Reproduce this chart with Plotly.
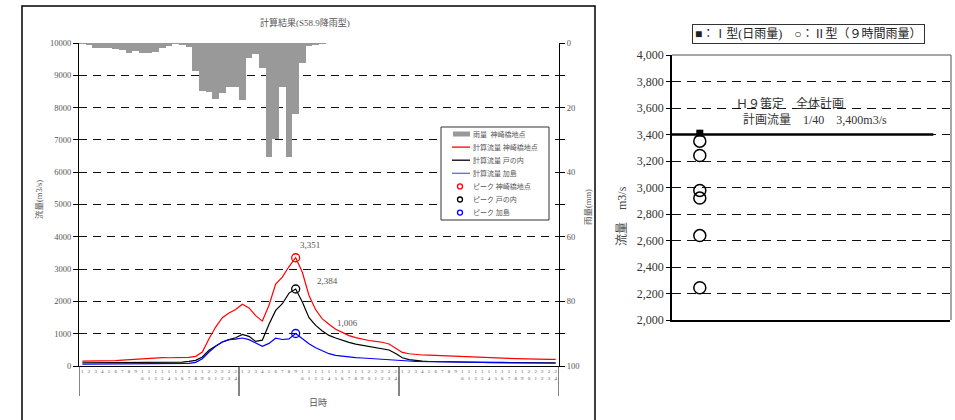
import plotly.graph_objects as go

# ---------------- data ----------------
hour_index = list(range(72))                      # hourly steps from 27th 1:00 to 29th 24:00
hour_labels = [str(h) for h in range(1, 25)] * 3  # tick labels (hour of day)
day_labels = ["27", "28", "29"]

rain_mm = [0.2, 0.4, 1.4, 1.4, 1.4, 1.9, 2.1, 3.1, 2.6, 3.1, 3.1, 2.8,
           1.4, 0.9, 0.2, 0.6, 1.1, 8.7, 14.8, 15.1, 17.3, 15.5, 13.7, 13.7,
           17.6, 4.7, 3.3, 7.7, 35.3, 29.8, 13.6, 35.3, 22.1, 6.2, 1.0, 0.4,
           0.2, 0, 0, 0, 0, 0, 0, 0, 0, 0, 0, 0,
           0, 0, 0, 0, 0, 0, 0, 0, 0, 0, 0, 0,
           0, 0, 0, 0, 0, 0, 0, 0, 0, 0, 0, 0]

flow_kanzaki = [150, 150, 152, 155, 160, 168, 180, 195, 215, 235, 250, 258,
                258, 255, 252, 255, 268, 300, 433, 845, 1206, 1495, 1640, 1750,
                1910, 1800, 1560, 1390, 1880, 2540, 2750, 3080, 3351, 2900, 2185, 1740,
                1460, 1290, 1135, 1040, 940, 880, 830, 790, 760, 735, 680, 540,
                420, 380, 355, 340, 335, 325, 315, 305, 295, 287, 280, 273,
                267, 260, 252, 245, 238, 230, 222, 215, 210, 207, 205, 205]

flow_tonouchi = [100, 100, 100, 100, 102, 105, 108, 112, 115, 118, 120, 122,
                 122, 120, 120, 122, 144, 175, 278, 485, 620, 742, 815, 876,
                 980, 918, 760, 800, 1290, 1720, 1928, 2258, 2384, 1980, 1495, 1258,
                 1082, 948, 866, 794, 732, 680, 640, 600, 567, 530, 495, 390,
                 255, 196, 165, 150, 140, 135, 130, 128, 125, 122, 120, 118,
                 116, 114, 112, 110, 108, 106, 105, 104, 103, 102, 101, 100]

flow_kashima = [60, 60, 60, 60, 62, 64, 66, 68, 70, 72, 74, 75,
                74, 72, 72, 74, 82, 113, 227, 433, 608, 742, 815, 835,
                866, 815, 700, 610, 700, 860, 820, 840, 1006, 845, 690, 567,
                464, 381, 330, 300, 278, 258, 247, 237, 227, 216, 206, 185,
                165, 155, 144, 138, 133, 128, 124, 120, 117, 114, 112, 110,
                108, 105, 102, 100, 98, 96, 94, 92, 90, 88, 86, 85]

# right chart
plan_flow = 3400
type1_flow = [3410]
type2_flow = [3350, 3242, 2978, 2920, 2637, 2243]
event_pos = 1

# ---------------- helpers ----------------
W, H = 955, 420
def px(x): return x / W
def py(y): return 1 - y / H

SERIF = "Liberation Serif, Noto Sans CJK JP"
GREY_TXT = "#555555"

hours = [h + 0.5 for h in hour_index]
def stacked(s):
    return "<br>".join(list(s))
tick_text = [stacked(s) for s in hour_labels]

fig = go.Figure()

# rain bars (reversed right axis)
fig.add_trace(go.Bar(x=hours, y=rain_mm, xaxis="x", yaxis="y2", width=1,
                     marker=dict(color="#999999", line=dict(width=0)),
                     showlegend=False, hoverinfo="skip"))

series = [(flow_kanzaki, "#ff0000"), (flow_tonouchi, "#000000"), (flow_kashima, "#0000ff")]
for ys, col in series:
    fig.add_trace(go.Scatter(x=hours, y=ys, mode="lines", xaxis="x", yaxis="y",
                             line=dict(color=col, width=1.2), showlegend=False))

peak_label_offsets = [(14, 13), (32, 8), (52, 11)]
for (ys, col), (dx, dy) in zip(series, peak_label_offsets):
    k = ys.index(max(ys))
    fig.add_trace(go.Scatter(x=[hours[k]], y=[ys[k]], mode="markers", xaxis="x", yaxis="y",
                             marker=dict(symbol="circle-open", size=8, color=col,
                                         line=dict(width=1.3, color=col)),
                             showlegend=False))
    fig.add_annotation(x=hours[k], y=ys[k], xref="x", yref="y", text=f"{ys[k]:,}",
                       showarrow=False, xshift=dx, yshift=dy,
                       xanchor="center", yanchor="middle",
                       font=dict(family=SERIF, size=9, color=GREY_TXT))

# right chart
fig.add_trace(go.Scatter(x=[event_pos] * len(type2_flow), y=type2_flow, mode="markers",
                         xaxis="x3", yaxis="y3",
                         marker=dict(symbol="circle-open", size=12, color="black",
                                     line=dict(width=1.5, color="black")),
                         showlegend=False))
fig.add_trace(go.Scatter(x=[event_pos] * len(type1_flow), y=type1_flow, mode="markers",
                         xaxis="x3", yaxis="y3",
                         marker=dict(symbol="square", size=7, color="black"),
                         showlegend=False))

shapes = []
annotations = []

def note(x, y, text, size, color=GREY_TXT, xanchor="center", angle=0, **kw):
    d = dict(x=px(x), y=py(y), xref="paper", yref="paper", text=text, showarrow=False,
             xanchor=xanchor, yanchor="middle", textangle=angle,
             font=dict(family=SERIF, size=size, color=color))
    d.update(kw)
    annotations.append(d)

# plan flow line
shapes.append(dict(type="line", xref="x3 domain", yref="y3", x0=0, x1=0.94,
                   y0=plan_flow, y1=plan_flow, line=dict(color="black", width=2.5)))
# top / right grey border of right chart
shapes.append(dict(type="line", xref="paper", yref="paper", x0=px(672), x1=px(951),
                   y0=py(55), y1=py(55), line=dict(color="#888888", width=1.5)))
shapes.append(dict(type="line", xref="paper", yref="paper", x0=px(951), x1=px(951),
                   y0=py(55), y1=py(320), line=dict(color="#888888", width=1.5)))

# outer frame of left chart
shapes.append(dict(type="rect", xref="paper", yref="paper", x0=px(22), x1=px(595),
                   y0=-0.05, y1=py(6), line=dict(color="black", width=1.5), layer="above"))

# day separators
for d in [0, 24, 48, 72]:
    shapes.append(dict(type="line", xref="x", yref="paper", x0=d, x1=d,
                       y0=py(396), y1=py(366), line=dict(color="#333333", width=1.2)))
for i, lab in enumerate(day_labels):
    annotations.append(dict(x=12 + 24 * i, y=py(390), xref="x", yref="paper", text=lab,
                            showarrow=False, xanchor="center", yanchor="middle",
                            font=dict(family=SERIF, size=7, color=GREY_TXT)))

note(318, 403, "日時", 9)
note(305, 22, "計算結果(S58.9降雨型)", 9)
note(39, 200, "流量(m3/s)", 8.5, angle=-90)
note(588, 207, "雨量(mm)", 8.5, angle=-90)

# manual legend (left chart)
shapes.append(dict(type="rect", xref="paper", yref="paper", x0=px(441), x1=px(549),
                   y0=py(220), y1=py(127), line=dict(color="#333333", width=1),
                   fillcolor="white", layer="above"))
leg_items = [("bar", "#999999", "雨量  神崎橋地点"),
             ("line", "#ff0000", "計算流量 神崎橋地点"),
             ("line", "#000000", "計算流量 戸の内"),
             ("line", "#6666ff", "計算流量 加島"),
             ("circle", "#ff0000", "ピーク 神崎橋地点"),
             ("circle", "#000000", "ピーク 戸の内"),
             ("circle", "#0000ff", "ピーク 加島")]
for j, (kind, col, lab) in enumerate(leg_items):
    yy = 134 + 13.1 * j
    if kind == "bar":
        shapes.append(dict(type="rect", xref="paper", yref="paper", x0=px(453), x1=px(470),
                           y0=py(yy + 2.5), y1=py(yy - 2.5), fillcolor=col,
                           line=dict(width=0), layer="above"))
    elif kind == "line":
        shapes.append(dict(type="line", xref="paper", yref="paper", x0=px(452), x1=px(470),
                           y0=py(yy), y1=py(yy), line=dict(color=col, width=1.3), layer="above"))
    else:
        shapes.append(dict(type="circle", xref="paper", yref="paper", x0=px(457.5), x1=px(462.5),
                           y0=py(yy + 2.5), y1=py(yy - 2.5), line=dict(color=col, width=1.3),
                           layer="above"))
    note(471, yy, lab, 7, xanchor="left")

# right chart texts
note(808, 34, "■：Ⅰ型(日雨量)　○：Ⅱ型（９時間雨量）", 12, color="#222222",
     bordercolor="#333333", borderwidth=1, borderpad=2, bgcolor="white")
note(790, 103, "Ｈ９策定　全体計画", 12, color="#333333")
note(815, 119, "計画流量　1/40　3,400m3/s", 12, color="#333333")
note(622, 216, "流量　m3/s", 12, color="#444444", angle=-90)

rain_ticks = list(range(0, 101, 10))
rain_text = [str(v) if v % 20 == 0 else "" for v in rain_ticks]
r_ticks = list(range(2000, 4001, 200))

fig.update_layout(
    width=W, height=H, autosize=False,
    margin=dict(l=0, r=0, t=0, b=0),
    paper_bgcolor="white", plot_bgcolor="white",
    showlegend=False, bargap=0,
    xaxis=dict(domain=[px(79), px(559)], range=[0, 72], anchor="y",
               showline=True, linecolor="black", linewidth=1,
               tickmode="array", tickvals=hours, ticktext=tick_text, tickangle=0,
               tickfont=dict(family=SERIF, size=5, color=GREY_TXT),
               ticks="", showgrid=False, zeroline=False, automargin=False),
    yaxis=dict(domain=[py(366), py(43)], range=[0, 10000], anchor="x",
               tickmode="array", tickvals=list(range(0, 10001, 1000)),
               ticktext=[str(v) for v in range(0, 10001, 1000)],
               ticks="outside", ticklen=5, tickcolor="black",
               showline=True, linecolor="black", linewidth=1,
               showgrid=True, gridcolor="#111111", griddash="8px,6px", gridwidth=1,
               zeroline=False, automargin=False,
               tickfont=dict(family=SERIF, size=8.5, color=GREY_TXT)),
    yaxis2=dict(overlaying="y", side="right", anchor="x", range=[100, 0],
                tickmode="array", tickvals=rain_ticks, ticktext=rain_text,
                ticks="outside", ticklen=5, tickcolor="black",
                showline=True, linecolor="black", linewidth=1,
                showgrid=False, zeroline=False, automargin=False,
                tickfont=dict(family=SERIF, size=8.5, color=GREY_TXT)),
    xaxis3=dict(domain=[px(672), px(950)], range=[0, 10], anchor="y3",
                showticklabels=False, ticks="", showline=True, linecolor="black",
                linewidth=1.5, showgrid=False, zeroline=False, automargin=False),
    yaxis3=dict(domain=[py(320), py(55)], range=[2000, 4000], anchor="x3",
                tickmode="array", tickvals=r_ticks, ticktext=[f"{v:,}" for v in r_ticks],
                ticks="outside", ticklen=4, tickcolor="black",
                showline=True, linecolor="black", linewidth=1.5,
                showgrid=True, gridcolor="#111111", griddash="9px,6px", gridwidth=1,
                zeroline=False, automargin=False,
                tickfont=dict(family=SERIF, size=12, color="#333333")),
    shapes=shapes, annotations=annotations,
)

fig.write_html("out.html", config={"displayModeBar": False},
               post_script="document.body.style.margin='0px';")
